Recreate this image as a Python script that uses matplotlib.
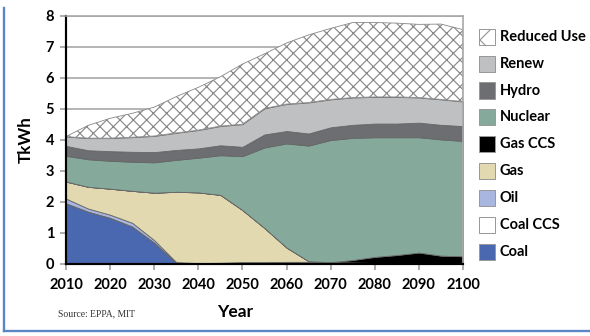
import numpy as np
import matplotlib
matplotlib.use("Agg")
import matplotlib.pyplot as plt
from matplotlib.patches import Rectangle
from matplotlib.lines import Line2D

plt.rcParams['font.family'] = ['Lato', 'DejaVu Sans']
plt.rcParams['hatch.linewidth'] = 0.7

# data (TkWh)
years = [2010, 2015, 2020, 2025, 2030, 2035, 2040, 2045, 2050, 2055,
         2060, 2065, 2070, 2075, 2080, 2085, 2090, 2095, 2100]
coal     = [1.95, 1.68, 1.48, 1.20, 0.68, 0.03, 0, 0, 0, 0, 0, 0, 0, 0, 0, 0, 0, 0, 0]
coal_ccs = [0, 0, 0, 0, 0, 0, 0.02, 0.03, 0.05, 0.05, 0.06, 0.06, 0.05, 0.04, 0.02, 0, 0, 0, 0]
oil      = [0.15, 0.10, 0.10, 0.12, 0.08, 0.02, 0, 0, 0, 0, 0, 0, 0, 0, 0, 0, 0, 0, 0]
gas      = [0.55, 0.70, 0.84, 1.03, 1.53, 2.27, 2.28, 2.19, 1.68, 1.10, 0.46, 0.02, 0, 0, 0, 0, 0, 0, 0]
gas_ccs  = [0, 0, 0, 0, 0, 0, 0, 0, 0, 0, 0, 0, 0, 0.08, 0.20, 0.28, 0.36, 0.26, 0.24]
nuclear  = [0.83, 0.89, 0.90, 0.94, 0.98, 1.03, 1.12, 1.28, 1.74, 2.60,
            3.36, 3.73, 3.94, 3.94, 3.86, 3.80, 3.72, 3.75, 3.72]
hydro    = [0.32, 0.29, 0.31, 0.32, 0.33, 0.32, 0.30, 0.32, 0.30, 0.42,
            0.40, 0.39, 0.41, 0.42, 0.44, 0.44, 0.47, 0.47, 0.48]
renew    = [0.30, 0.39, 0.42, 0.47, 0.52, 0.55, 0.59, 0.62, 0.73, 0.84,
            0.87, 1.00, 0.90, 0.88, 0.86, 0.86, 0.81, 0.82, 0.79]
reduced  = [0.00, 0.41, 0.64, 0.77, 0.93, 1.17, 1.38, 1.59, 1.94, 1.76,
            1.97, 2.18, 2.29, 2.42, 2.40, 2.38, 2.36, 2.43, 2.32]

series = [coal, coal_ccs, oil, gas, gas_ccs, nuclear, hydro, renew, reduced]
labels = ['Coal', 'Coal CCS', 'Oil', 'Gas', 'Gas CCS', 'Nuclear', 'Hydro', 'Renew', 'Reduced Use']
colors = ['#4a68b0', '#ffffff', '#a9b6e0', '#e2d9b0', '#000000',
          '#85a99a', '#6c6e71', '#bfc0c2', '#ffffff']
hatches = [None] * 8 + ['xxx']

W, H, DPI = 590, 336, 120
fig = plt.figure(figsize=(W / DPI, H / DPI), dpi=DPI)
ax = fig.add_axes([66 / W, 1 - 263.7 / H, (463 - 66) / W, (263.7 - 15.7) / H])

polys = ax.stackplot(years, *series, colors=colors, edgecolor='#666666', linewidth=0.5)
for p, h in zip(polys, hatches):
    p.set_zorder(2)
    if h:
        p.set_hatch(h)
        p.set_edgecolor('#888888')

ax.set_xlim(2010, 2100)
ax.set_ylim(0, 8)
ax.set_xticks(range(2010, 2101, 10))
ax.set_yticks(range(0, 9))
ax.yaxis.grid(True, color='#a8a8a8', linewidth=1.0)
ax.set_axisbelow(True)
for s in ['top', 'right']:
    ax.spines[s].set_color('#a8a8a8')
    ax.spines[s].set_linewidth(1.0)
ax.spines['left'].set_linewidth(1.3)
ax.spines['bottom'].set_linewidth(1.3)
ax.tick_params(axis='both', direction='out', color='#a0a0a0', width=1.0, length=3.6,
               labelsize=8.8)
ax.tick_params(axis='x', pad=5)
ax.tick_params(axis='y', pad=3.5)
for t in ax.get_xticklabels() + ax.get_yticklabels():
    t.set_fontweight('bold')

fig.text(26 / W, 1 - 140 / H, 'TkWh', rotation=90, ha='center', va='center',
         fontsize=10.2, fontweight='bold')
fig.text(235 / W, 1 - 312 / H, 'Year', ha='center', va='center',
         fontsize=10.4, fontweight='bold')
fig.text(58 / W, 1 - 314 / H, 'Source: EPPA, MIT', ha='left', va='center',
         fontsize=5.8, family='Liberation Serif', color='#333333')

# legend, top to bottom
for i, k in enumerate(range(len(labels) - 1, -1, -1)):
    yc = 36.7 + i * 26.9
    fig.add_artist(Rectangle((478.5 / W, 1 - (yc + 8) / H), 16 / W, 16 / H,
                             transform=fig.transFigure, facecolor=colors[k],
                             edgecolor='#999999', linewidth=0.6,
                             hatch=None if hatches[k] is None else 'x'))
    fig.text(500 / W, 1 - yc / H, labels[k], ha='left', va='center',
             fontsize=8.8, fontweight='bold')

# blue frame (left and bottom)
frame = '#5a86c8'
fig.add_artist(Line2D([4 / W, 4 / W], [1 - 8 / H, 1 - 331 / H], color=frame,
                      linewidth=1.4, transform=fig.transFigure))
fig.add_artist(Line2D([4 / W, 1.0], [1 - 331 / H, 1 - 331 / H], color=frame,
                      linewidth=1.4, transform=fig.transFigure))

fig.savefig('out.png', dpi=DPI)
